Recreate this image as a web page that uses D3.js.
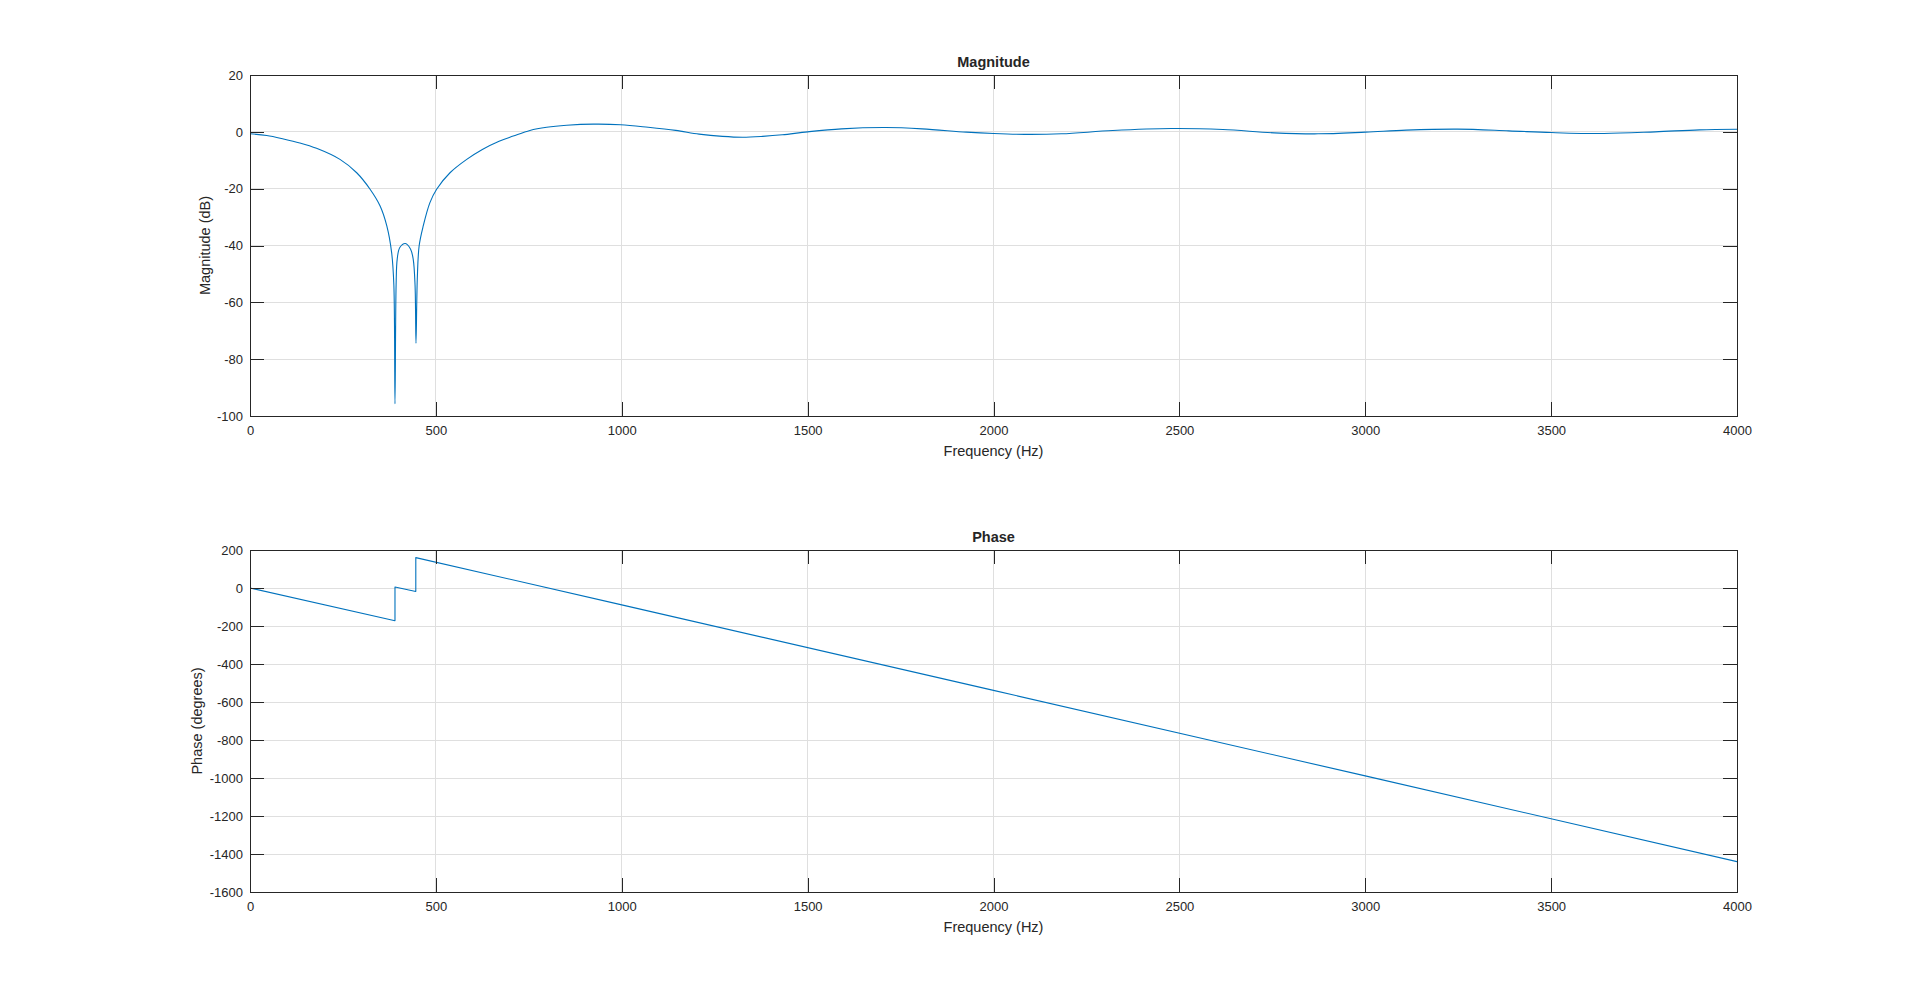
<!DOCTYPE html>
<html>
<head>
<meta charset="utf-8">
<script src="https://cdn.jsdelivr.net/npm/d3@7"></script>
<style>
  html, body { margin: 0; padding: 0; background: #ffffff; }
  svg { display: block; }
  text { font-family: "Liberation Sans", Arial, Helvetica, sans-serif; fill: #262626; }
</style>
</head>
<body>
<svg id="chart" width="1920" height="1003"></svg>
<script>
// ---------- Data ----------
const xTicks = [0, 500, 1000, 1500, 2000, 2500, 3000, 3500, 4000];
const magTicks = [-100, -80, -60, -40, -20, 0, 20];
const phaseTicks = [-1600, -1400, -1200, -1000, -800, -600, -400, -200, 0, 200];

const magFreq = [0, 45, 90, 134, 179, 242, 287, 323, 350, 368, 381, 387, 390, 393, 396, 403, 418, 432, 439, 444, 446.5, 450, 455, 466, 484, 502, 538, 583, 625, 670, 708, 753, 798, 852, 924, 997, 1071, 1145, 1208, 1271, 1325, 1379, 1432, 1500, 1591, 1710, 1808, 1927, 2001, 2084, 2183, 2321, 2479, 2617, 2755, 2873, 3001, 3110, 3248, 3386, 3500, 3642, 3780, 3899, 4000];
const magDb   = [-0.7, -1.3, -2.5, -3.9, -5.8, -9.7, -14.4, -20.2, -26.1, -33.1, -42.5, -54, -95.7, -54, -44.8, -40.7, -39.3, -41.3, -44.8, -54, -74.4, -51.8, -40.1, -33.1, -24.9, -20.2, -14.4, -9.7, -6.2, -3.3, -1.5, 0.5, 1.6, 2.3, 2.7, 2.5, 1.6, 0.5, -0.8, -1.6, -1.9, -1.6, -1.05, 0, 1.05, 1.5, 1.05, -0.1, -0.6, -0.9, -0.7, 0.45, 1.15, 0.8, -0.35, -0.7, -0.1, 0.6, 0.95, 0.35, -0.25, -0.6, 0, 0.7, 0.9];

const phaseFreq = [0, 390, 390, 446, 446, 1000, 2000, 3000, 4000];
const phaseDeg  = [0, -172, 5, -18, 160, -89, -539, -989, -1440];

// ---------- Layout ----------
const svg = d3.select("#chart");
const left = 250, right = 1737;
const panels = [
  { title: "Magnitude", ylabel: "Magnitude (dB)", top: 75, bottom: 416, domain: [-100, 20], ticks: magTicks,
    xs: magFreq, ys: magDb, curve: d3.curveCatmullRom.alpha(0.5), ylabelX: 205 },
  { title: "Phase", ylabel: "Phase (degrees)", top: 550, bottom: 892, domain: [-1600, 200], ticks: phaseTicks,
    xs: phaseFreq, ys: phaseDeg, curve: d3.curveLinear, ylabelX: 197 }
];

const axisColor = "#262626";
const gridColor = "#dfdfdf";
const lineColor = "#0072BD";
const tickLen = 14;
const fmt = d => String(d);   // plain hyphen-minus like the reference

panels.forEach((p, i) => {
  const x = d3.scaleLinear().domain([0, 4000]).range([left, right]);
  const y = d3.scaleLinear().domain(p.domain).range([p.bottom, p.top]);
  const w = right - left, h = p.bottom - p.top;
  const g = svg.append("g");

  // grid
  const grid = g.append("g");
  grid.selectAll("line.gx").data(xTicks).join("line")
    .attr("x1", d => x(d)).attr("x2", d => x(d))
    .attr("y1", p.top).attr("y2", p.bottom)
    .attr("stroke", gridColor).attr("stroke-width", 1).attr("shape-rendering", "crispEdges");
  grid.selectAll("line.gy").data(p.ticks).join("line")
    .attr("x1", left).attr("x2", right)
    .attr("y1", d => y(d)).attr("y2", d => y(d))
    .attr("stroke", gridColor).attr("stroke-width", 1).attr("shape-rendering", "crispEdges");

  // data line
  const clipId = "clip" + i;
  svg.append("clipPath").attr("id", clipId).append("rect")
    .attr("x", left).attr("y", p.top - 1).attr("width", w).attr("height", h + 2);
  const pts = p.xs.map((f, k) => [f, p.ys[k]]);
  g.append("path")
    .datum(pts)
    .attr("clip-path", `url(#${clipId})`)
    .attr("fill", "none")
    .attr("stroke", lineColor)
    .attr("stroke-width", 1.1)
    .attr("stroke-linejoin", "round")
    .attr("d", d3.line().x(d => x(d[0])).y(d => y(d[1])).curve(p.curve));

  // axes (ticks inside, box on)
  const bottomAx = d3.axisBottom(x).tickValues(xTicks).tickFormat(fmt).tickSizeInner(-tickLen).tickSizeOuter(0).tickPadding(10);
  const topAx = d3.axisTop(x).tickValues(xTicks).tickFormat("").tickSizeInner(-tickLen).tickSizeOuter(0);
  const leftAx = d3.axisLeft(y).tickValues(p.ticks).tickFormat(fmt).tickSizeInner(-tickLen).tickSizeOuter(0).tickPadding(7);
  const rightAx = d3.axisRight(y).tickValues(p.ticks).tickFormat("").tickSizeInner(-tickLen).tickSizeOuter(0);

  const styleAx = sel => {
    sel.selectAll("path.domain").attr("stroke", axisColor).attr("stroke-width", 1).attr("shape-rendering", "crispEdges");
    sel.selectAll(".tick line").attr("stroke", axisColor).attr("stroke-width", 1).attr("shape-rendering", "crispEdges");
    sel.selectAll(".tick text").attr("fill", axisColor).style("font-size", "13px")
      .style("font-family", '"Liberation Sans", Arial, Helvetica, sans-serif');
  };
  g.append("g").attr("transform", `translate(0,${p.bottom})`).call(bottomAx).call(styleAx);
  g.append("g").attr("transform", `translate(0,${p.top})`).call(topAx).call(styleAx);
  g.append("g").attr("transform", `translate(${left},0)`).call(leftAx).call(styleAx);
  g.append("g").attr("transform", `translate(${right},0)`).call(rightAx).call(styleAx);

  // title
  g.append("text").attr("x", (left + right) / 2).attr("y", p.top - 8)
    .attr("text-anchor", "middle").style("font-size", "14.5px").style("font-weight", "bold")
    .text(p.title);
  // x label
  g.append("text").attr("x", (left + right) / 2).attr("y", p.bottom + 40)
    .attr("text-anchor", "middle").style("font-size", "14.5px")
    .text("Frequency (Hz)");
  // y label
  g.append("text")
    .attr("transform", `translate(${p.ylabelX},${(p.top + p.bottom) / 2}) rotate(-90)`)
    .attr("text-anchor", "middle").attr("dy", "0.35em").style("font-size", "14.5px")
    .text(p.ylabel);
});
</script>
</body>
</html>
